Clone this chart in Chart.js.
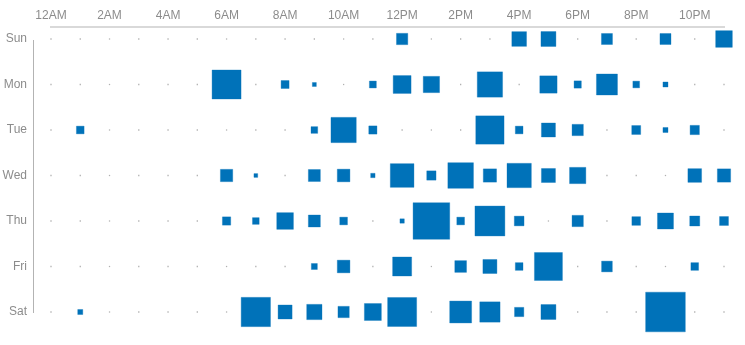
<!DOCTYPE html>
<html>
<head>
<meta charset="utf-8">
<script src="https://cdn.jsdelivr.net/npm/chart.js@4/dist/chart.umd.min.js"></script>
<style>
  html, body { margin: 0; padding: 0; background: #fff; }
  #wrap { width: 745px; height: 345px; position: relative; }
</style>
</head>
<body>
<div id="wrap"><canvas id="c" width="745" height="345"></canvas></div>
<script>
// Hour labels (columns) and day labels (rows)
const hours = ['12AM','1AM','2AM','3AM','4AM','5AM','6AM','7AM','8AM','9AM','10AM','11AM',
               '12PM','1PM','2PM','3PM','4PM','5PM','6PM','7PM','8PM','9PM','10PM','11PM'];
const days = ['Sun','Mon','Tue','Wed','Thu','Fri','Sat'];

// Activity counts per hour (12AM .. 11PM) for each day
const sun = [0,0,0,0,0,0,0,0,0,0,0,0, 8,0,0,0,13.5,14,0,7.6,0,7.6,0,17.4];
const mon = [0,0,0,0,0,0,52.6,0,4,1,0,3, 20,16.6,0,40,0,18.7,3.3,27.6,2.8,1.6,0,0];
const tue = [0,3.7,0,0,0,0,0,0,0,2.8,40,4.2, 0,0,0,50,3.7,12.3,8,0,5,1.6,5.4,0];
const wed = [0,0,0,0,0,0,9.5,0.9,0,9,10,1.2, 35,5.4,41,11,37,12.3,16.6,0,0,0,11.7,11];
const thu = [0,0,0,0,0,0,4.3,2.8,17.4,9,3.7,0, 1.2,84,3.7,56,5.9,0,8,0,4.7,16,6.25,5];
const fri = [0,0,0,0,0,0,0,0,0,2.25,10,0, 22.6,0,8.6,12.3,3.7,49,0,7.2,0,0,3.7,0];
const sat = [0,1.6,0,0,0,0,0,53.7,12.3,14.6,8,18, 52.6,0,30,25.8,5.4,14,0,0,0,98.5,0,0];

const rows = [sun, mon, tue, wed, thu, fri, sat];

const filled = [], empty = [];
rows.forEach((vals, d) => {
  vals.forEach((v, h) => {
    if (v > 0) filled.push({x: h, y: d, v: v});
    else empty.push({x: h, y: d, v: 0});
  });
});

const BLUE = '#0072b9';
const sideFor = v => 4 * Math.sqrt(v);          // area-encoded square side
const radiusFor = v => sideFor(v) / Math.SQRT2;  // Chart.js 'rect' side = r*sqrt(2)

const axisLines = {
  id: 'axisLines',
  beforeDatasetsDraw(chart) {
    const {ctx, chartArea} = chart;
    const xs = chart.scales.x, ys = chart.scales.y;
    ctx.save();
    // top axis line
    ctx.strokeStyle = '#d9d9d9';
    ctx.lineWidth = 2;
    ctx.beginPath();
    ctx.moveTo(xs.getPixelForValue(0) - 1, chartArea.top - 12);
    ctx.lineTo(xs.getPixelForValue(23) + 1, chartArea.top - 12);
    ctx.stroke();
    // left axis line
    ctx.strokeStyle = '#b3b3b3';
    ctx.lineWidth = 1;
    ctx.beginPath();
    ctx.moveTo(chartArea.left - 17.5, ys.getPixelForValue(0) + 1);
    ctx.lineTo(chartArea.left - 17.5, ys.getPixelForValue(6) + 1);
    ctx.stroke();
    ctx.restore();
  }
};

new Chart(document.getElementById('c'), {
  type: 'scatter',
  data: {
    datasets: [
      {
        data: empty,
        pointStyle: 'rect',
        pointRadius: 0.9,
        pointHoverRadius: 0.9,
        backgroundColor: '#b0b0b0',
        borderWidth: 0,
        clip: false
      },
      {
        data: filled,
        pointStyle: 'rect',
        pointRadius: ctx => radiusFor(ctx.raw.v),
        pointHoverRadius: ctx => radiusFor(ctx.raw.v),
        backgroundColor: BLUE,
        borderColor: 'rgba(0,114,185,0.55)',
        borderWidth: 0.6,
        clip: false
      }
    ]
  },
  options: {
    responsive: false,
    animation: false,
    events: [],
    layout: { autoPadding: false, padding: { left: 0, top: 0, right: 21, bottom: 33 } },
    plugins: { legend: { display: false }, tooltip: { enabled: false } },
    scales: {
      x: {
        type: 'linear',
        position: 'top',
        min: 0,
        max: 23,
        afterFit: s => { s.height = 39; s.paddingLeft = 0; s.paddingRight = 0; },
        afterBuildTicks: s => { s.ticks = hours.map((_, i) => ({value: i})).filter(t => t.value % 2 === 0); },
        ticks: {
          autoSkip: false,
          maxRotation: 0,
          padding: 16,
          color: '#8c8c8c',
          font: { family: 'Liberation Sans, Arial, sans-serif', size: 12 },
          callback: v => hours[v]
        },
        grid: { display: false, drawTicks: false },
        border: { display: false }
      },
      y: {
        type: 'linear',
        reverse: true,
        min: 0,
        max: 6,
        afterFit: s => { s.width = 51; s.paddingTop = 0; s.paddingBottom = 0; },
        afterBuildTicks: s => { s.ticks = days.map((_, i) => ({value: i})); },
        ticks: {
          autoSkip: false,
          padding: 24,
          color: '#8c8c8c',
          font: { family: 'Liberation Sans, Arial, sans-serif', size: 12 },
          callback: v => days[v]
        },
        grid: { display: false, drawTicks: false },
        border: { display: false }
      }
    }
  },
  plugins: [axisLines]
});
</script>
</body>
</html>
